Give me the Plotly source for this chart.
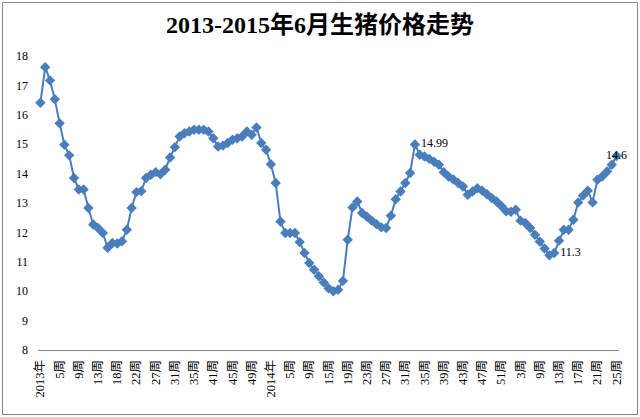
import plotly.graph_objects as go

# ---- data ----
weeks_2013 = [1, 2, 3, 4, 5, 6, 7, 8, 9, 10, 11, 12, 13, 14, 15, 17, 18, 19, 20, 21, 22,
              23, 24, 25, 27, 28, 29, 30, 31, 32, 33, 34, 35, 36, 37, 40, 41, 42, 43, 44,
              45, 46, 47, 48, 49, 50, 51, 52]
weeks_2014 = [1, 2, 3, 4, 5, 6, 7, 8, 9, 10, 12, 14, 15, 16, 17, 18, 19, 20, 21, 22, 23,
              24, 25, 26, 27, 28, 29, 30, 31, 32, 33, 34, 35, 36, 37, 38, 39, 40, 41, 42,
              43, 44, 45, 46, 47, 48, 49, 50, 51, 52]
weeks_2015 = [1, 2, 3, 5, 6, 7, 9, 10, 11, 12, 13, 14, 15, 16, 17, 18, 19, 20, 21, 22,
              23, 24, 25]

prices = [16.41, 17.62, 17.17, 16.53, 15.71, 14.98, 14.62, 13.85, 13.46, 13.46,
          12.83, 12.27, 12.15, 11.98, 11.48, 11.64, 11.62, 11.70, 12.09, 12.83,
          13.37, 13.40, 13.85, 13.96, 14.05, 13.98, 14.13, 14.55, 14.90, 15.26,
          15.37, 15.43, 15.49, 15.49, 15.49, 15.43, 15.20, 14.92, 14.95, 15.04,
          15.15, 15.20, 15.26, 15.43, 15.32, 15.57, 15.04, 14.81, 14.32, 13.68,
          12.37, 11.98, 11.98, 11.98, 11.67, 11.30, 10.96, 10.73, 10.51, 10.30,
          10.10, 10.00, 10.05, 10.35, 11.75, 12.85, 13.05, 12.66, 12.53, 12.40,
          12.28, 12.17, 12.15, 12.57, 13.13, 13.39, 13.68, 14.02, 14.99, 14.64,
          14.58, 14.50, 14.40, 14.30, 14.05, 13.90, 13.80, 13.68, 13.56, 13.28,
          13.39, 13.50, 13.42, 13.30, 13.17, 13.05, 12.90, 12.72, 12.70, 12.77,
          12.40, 12.32, 12.15, 11.92, 11.69, 11.45, 11.22, 11.30, 11.72, 12.09,
          12.09, 12.43, 13.02, 13.25, 13.42, 13.02, 13.79, 13.90, 14.07, 14.30,
          14.60]

labelled_points = [78, 107, 120]
label_positions = ["middle right", "middle right", "middle center"]

title_text = "2013-2015年6月生猪价格走势"
y_ticks = [8, 9, 10, 11, 12, 13, 14, 15, 16, 17, 18]

# ---- category labels ----
categories = []
for year, weeks in ((2013, weeks_2013), (2014, weeks_2014), (2015, weeks_2015)):
    for w in weeks:
        categories.append(f"{year}年" if w == 1 else f"{w}周")

x_idx = list(range(len(prices)))
tick_vals = list(range(0, len(categories), 4))
tick_text = [categories[i] for i in tick_vals]

texts = [""] * len(prices)
tpos = ["middle right"] * len(prices)
for i, p in zip(labelled_points, label_positions):
    texts[i] = f"{prices[i]:g}"
    tpos[i] = p

blue = "#4A7EBB"
serif = "Liberation Serif, 'Noto Sans CJK SC', serif"

fig = go.Figure()
fig.add_trace(go.Scatter(
    x=x_idx, y=prices, mode="lines+markers+text",
    line=dict(color=blue, width=2),
    marker=dict(symbol="diamond", size=8, color=blue),
    text=texts, textposition=tpos,
    textfont=dict(family=serif, size=12, color="#000000"),
    hoverinfo="x+y", showlegend=False, cliponaxis=False,
))

W, H = 640, 417
L, R, T, B = 38, 21, 56, 67
pw, ph = W - L - R, H - T - B


def px_to_paper(px, py):
    return (px - L) / pw, (H - B - py) / ph


x0, y0 = px_to_paper(2.5, 2.5)
x1, y1 = px_to_paper(637.5, 414.5)

fig.update_layout(
    width=W, height=H,
    margin=dict(l=L, r=R, t=T, b=B),
    paper_bgcolor="white", plot_bgcolor="white",
    title=dict(text=f"<b>{title_text}</b>", x=0.5, xanchor="center",
               y=1 - 25 / H, yanchor="middle", yref="container",
               font=dict(family=serif, size=24, color="#000000")),
    xaxis=dict(range=[-0.5, len(prices) - 0.5], tickmode="array",
               tickvals=tick_vals, ticktext=tick_text, tickangle=-90,
               showgrid=False, zeroline=False, showline=True,
               linecolor="#868686", linewidth=1, ticks="",
               ticklabelstandoff=4,
               tickfont=dict(family=serif, size=12.5, color="#000000")),
    yaxis=dict(range=[8, 18], tickmode="array", tickvals=y_ticks,
               showgrid=False, zeroline=False, showline=False, ticks="",
               ticklabelstandoff=9,
               tickfont=dict(family=serif, size=12, color="#000000")),
    shapes=[dict(type="rect", xref="paper", yref="paper",
                 x0=x0, y0=y0, x1=x1, y1=y1,
                 line=dict(color="#868686", width=1), layer="below")],
)

fig.write_html("out.html",
               config={"displayModeBar": False},
               post_script="document.body.style.margin='0';"
                           "document.body.style.overflow='hidden';")
